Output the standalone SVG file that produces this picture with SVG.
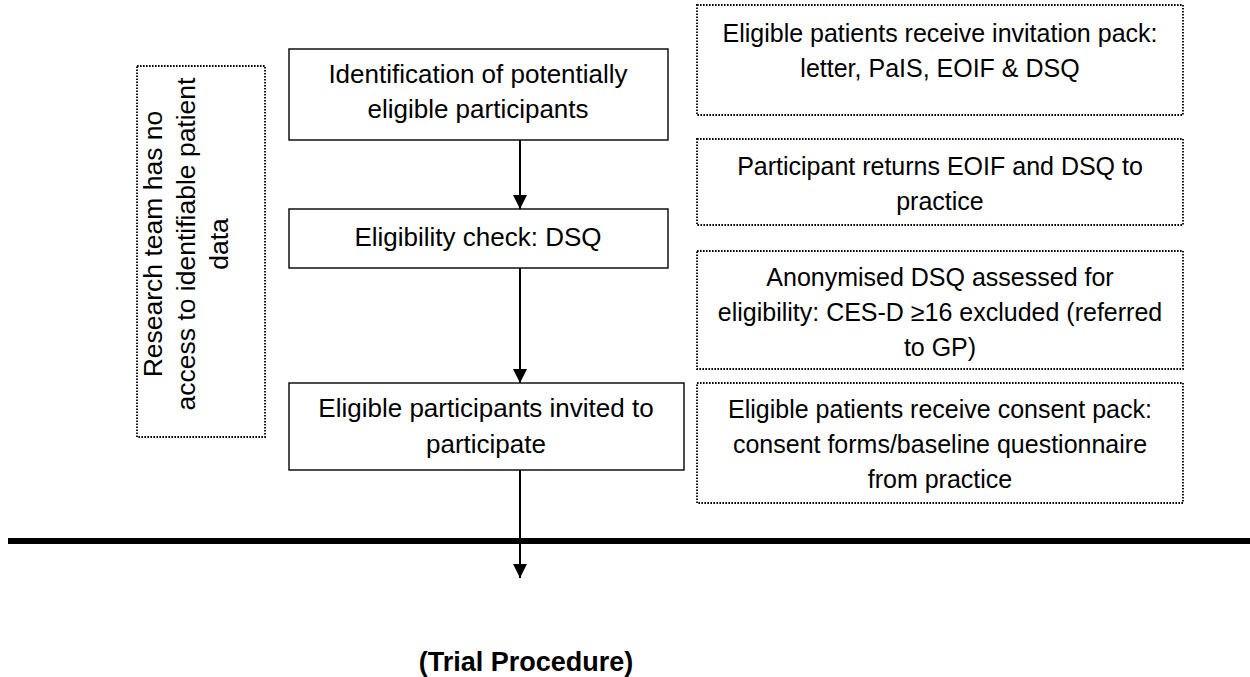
<svg xmlns="http://www.w3.org/2000/svg" width="1250" height="677" viewBox="0 0 1250 677">
  <defs>
    <marker id="arrow" markerWidth="14" markerHeight="16" refX="14" refY="7" orient="auto" markerUnits="userSpaceOnUse">
      <path d="M0,0 L14,7 L0,14 Z" fill="#000"/>
    </marker>
    <style>
      .solid { fill: #fff; stroke: #000; stroke-width: 1.4; }
      .dotted { fill: #fff; stroke: #000; stroke-width: 1.8; stroke-dasharray: 1.6 1.4; }
      .lbl { font-family: "Liberation Sans", Arial, sans-serif; font-size: 25px; fill: #000; text-anchor: middle; }
      .main { font-size: 26px; }
      .side { font-size: 26.5px; }
      .conn { stroke: #000; stroke-width: 2; fill: none; }
      .title { font-family: "Liberation Sans", Arial, sans-serif; font-size: 27px; font-weight: bold; fill: #000; text-anchor: middle; }
    </style>
  </defs>
  <rect width="1250" height="677" fill="#fff"/>

  <!-- side note, rotated -->
  <g id="note-access">
    <rect class="dotted" x="137" y="66" width="128" height="371"/>
    <g transform="translate(195,244) rotate(-90)">
      <text class="lbl side" x="0" y="-33">Research team has no</text>
      <text class="lbl side" x="0" y="0">access to identifiable patient</text>
      <text class="lbl side" x="0" y="33">data</text>
    </g>
  </g>

  <!-- main flow -->
  <g id="identification">
    <rect class="solid" x="289" y="49" width="379" height="91"/>
    <text class="lbl main" x="478" y="83">Identification of potentially</text>
    <text class="lbl main" x="478" y="118">eligible participants</text>
  </g>
  <g id="eligibility-check">
    <rect class="solid" x="289" y="209" width="379" height="59"/>
    <text class="lbl main" x="478" y="246">Eligibility check: DSQ</text>
  </g>
  <g id="invited">
    <rect class="solid" x="289" y="383" width="395" height="87"/>
    <text class="lbl main" x="486" y="417">Eligible participants invited to</text>
    <text class="lbl main" x="486" y="453">participate</text>
  </g>

  <!-- practice-side steps -->
  <g id="invitation-pack">
    <rect class="dotted" x="697" y="5" width="486" height="110"/>
    <text class="lbl" x="940" y="42">Eligible patients receive invitation pack:</text>
    <text class="lbl" x="940" y="77">letter, PaIS, EOIF &amp; DSQ</text>
  </g>
  <g id="returns">
    <rect class="dotted" x="697" y="139" width="486" height="86"/>
    <text class="lbl" x="940" y="175">Participant returns EOIF and DSQ to</text>
    <text class="lbl" x="940" y="210">practice</text>
  </g>
  <g id="assessed">
    <rect class="dotted" x="697" y="251" width="486" height="118"/>
    <text class="lbl" x="940" y="286">Anonymised DSQ assessed for</text>
    <text class="lbl" x="940" y="321">eligibility: CES-D ≥16 excluded (referred</text>
    <text class="lbl" x="940" y="356">to GP)</text>
  </g>
  <g id="consent-pack">
    <rect class="dotted" x="697" y="383" width="486" height="120"/>
    <text class="lbl" x="940" y="418">Eligible patients receive consent pack:</text>
    <text class="lbl" x="940" y="453">consent forms/baseline questionnaire</text>
    <text class="lbl" x="940" y="488">from practice</text>
  </g>

  <!-- divider -->
  <g id="divider">
    <line x1="8" y1="541" x2="1250" y2="541" stroke="#000" stroke-width="6"/>
  </g>

  <g id="connectors">
    <line class="conn" x1="520" y1="140" x2="520" y2="209" marker-end="url(#arrow)"/>
    <line class="conn" x1="520" y1="268" x2="520" y2="383" marker-end="url(#arrow)"/>
    <line class="conn" x1="520" y1="470" x2="520" y2="578" marker-end="url(#arrow)"/>
  </g>

  <g id="trial-procedure">
    <text class="title" x="526" y="671">(Trial Procedure)</text>
  </g>
</svg>
